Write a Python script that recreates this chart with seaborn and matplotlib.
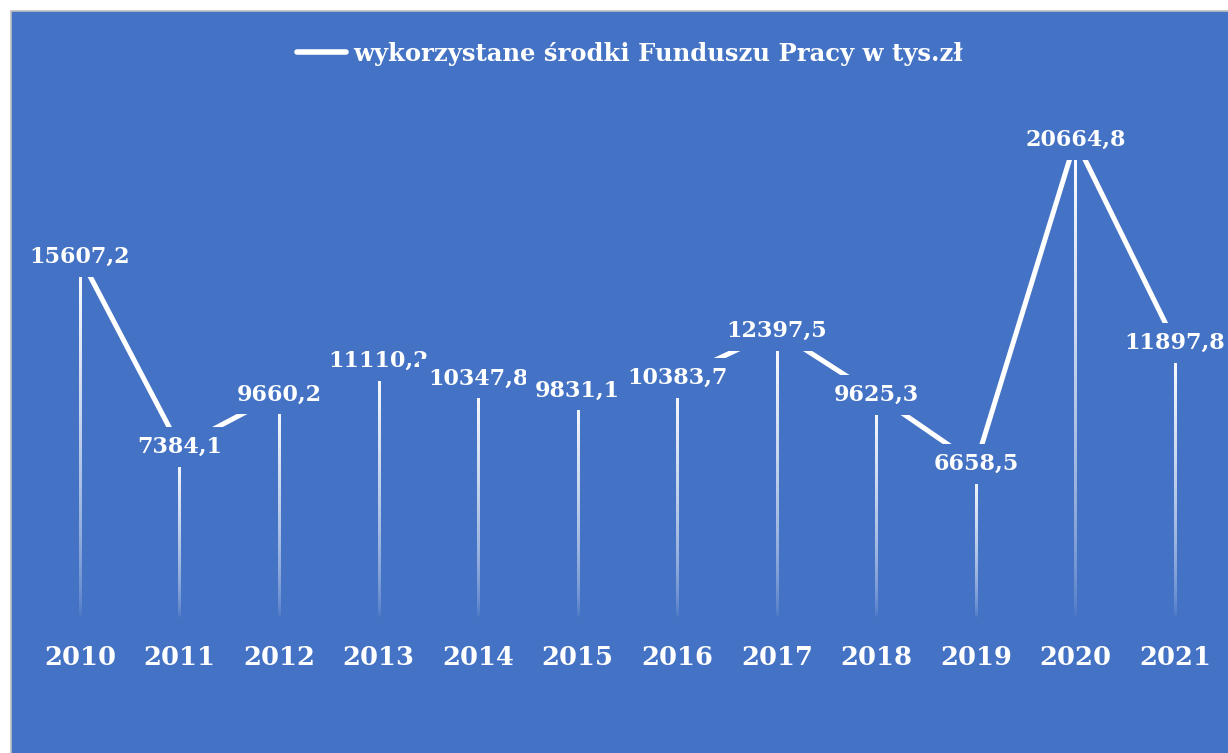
import matplotlib
matplotlib.use("Agg")
import matplotlib.pyplot as plt
import numpy as np
import pandas as pd
import seaborn as sns
from matplotlib.patches import Rectangle

# data
years = [2010, 2011, 2012, 2013, 2014, 2015, 2016, 2017, 2018, 2019, 2020, 2021]
values = [15607.2, 7384.1, 9660.2, 11110.2, 10347.8, 9831.1, 10383.7, 12397.5, 9625.3, 6658.5, 20664.8, 11897.8]
series_name = "wykorzystane środki Funduszu Pracy w tys.zł"

df = pd.DataFrame({"rok": years, "wartosc": values})

BLUE = "#4472C4"
W, H = 1228, 753

sns.set_theme(style="white")
plt.rcParams["font.family"] = ["DejaVu Serif", "DejaVu Sans"]

fig = plt.figure(figsize=(W / 100, H / 100), dpi=100, facecolor="white")
# blue chart background with thin grey border
bg = Rectangle((11 / W, -0.01), 1.0, (H - 11) / H + 0.01,
               transform=fig.transFigure, facecolor=BLUE,
               edgecolor="#BFBFBF", lw=1.2, zorder=-10)
fig.add_artist(bg)

base_px = 617.6
top_px = 11
ax = fig.add_axes([0, (H - base_px) / H, 1, (base_px - top_px) / H])
ax.set_facecolor("none")

# main line
sns.lineplot(data=df, x="rok", y="wartosc", ax=ax, color="white", lw=3.6,
             label=series_name, solid_capstyle="round", zorder=2)

# drop lines fading towards the baseline (white gradient images)
grad = np.ones((200, 1, 4))
grad[:, 0, 3] = np.linspace(1.0, 0.0, 200) ** 0.6
half_w = 0.011
for x, v in zip(years, values):
    ax.imshow(grad, extent=(x - half_w, x + half_w, 0, v), aspect="auto",
              interpolation="bilinear", origin="upper", zorder=1)

ax.set_xlim(2009.196, 2021.532)
ax.set_ylim(0, 26260)

# data labels with blue box hiding the line around the point
for x, v in zip(years, values):
    ax.text(x, v, f"{v:.1f}".replace(".", ","), ha="center", va="center",
            color="white", fontsize=16, fontweight="bold",
            bbox=dict(boxstyle="square,pad=0.4", facecolor=BLUE, edgecolor="none"),
            zorder=3)

ax.set_xticks(years)
ax.set_xticklabels([str(y) for y in years], fontsize=18.5, fontweight="bold", color="white")
ax.tick_params(axis="x", length=0, pad=20)
ax.set_yticks([])
ax.set_xlabel("")
ax.set_ylabel("")
for s in ax.spines.values():
    s.set_visible(False)

handles, labels = ax.get_legend_handles_labels()
leg = ax.legend(handles, labels, loc="center", bbox_to_anchor=(630 / W, 1 - 54 / H),
                bbox_transform=fig.transFigure, frameon=False, handlelength=2.0,
                handletextpad=0.3, prop={"size": 17.5, "weight": "bold"})
for t in leg.get_texts():
    t.set_color("white")
for l in leg.get_lines():
    l.set_linewidth(4)
    l.set_solid_capstyle("round")

fig.savefig("out.png", dpi=100, facecolor="white")
